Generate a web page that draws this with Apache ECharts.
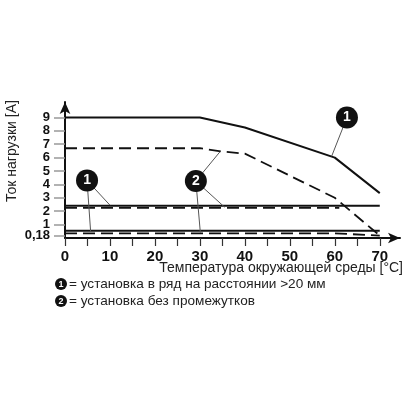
<!DOCTYPE html>
<html><head><meta charset="utf-8">
<script src="https://cdn.jsdelivr.net/npm/echarts@6/dist/echarts.min.js"></script>
<style>html,body{margin:0;padding:0;background:#fff}#c{width:408px;height:408px}</style>
</head><body><div id="c"></div>
<script>
// ---- data ----
const xLabelTicks = [0, 10, 20, 30, 40, 50, 60, 70];
const xMinorTicks = [0, 5, 10, 15, 20, 25, 30, 35, 40, 45, 50, 55, 60, 65, 70];
const yLabelTicks = [1, 2, 3, 4, 5, 6, 7, 8, 9];
const yBaseTick = [0.18];
const curveSpaced = [[0, 9], [30, 9], [40, 8.25], [60, 6.0], [70, 3.35]];
const curveNoGap = [[0, 6.7], [30, 6.7], [35, 6.45], [40, 6.3], [60, 3.0], [70, 0.18]];
const levelSpacedHigh = [[0, 2.4], [70, 2.4]];
const levelNoGapHigh = [[0, 2.25], [61, 2.25]];
const levelSpacedLow = [[0, 0.55], [70, 0.55]];
const levelNoGapLow = [[0, 0.35], [60, 0.35], [70, 0.18]];
const calloutLabels = ['1', '1', '2'];
const calloutPoints = [[62.7, 9.0], [4.9, 4.3], [29.1, 4.25]];
const leaderTargets = [[0, [59.3, 6.1]], [1, [10, 2.45]], [1, [5.7, 0.47]], [2, [34.5, 6.45]], [2, [35.5, 2.3]], [2, [30.1, 0.4]]];
const xAxisTitle = 'Температура окружающей среды [°C]';
const yAxisTitle = 'Ток нагрузки [A]';
const legendTexts = ['= установка в ряд на расстоянии >20 мм', '= установка без промежутков'];

const FONT = '"Liberation Sans", Arial, sans-serif';
const chart = echarts.init(document.getElementById('c'), null, {renderer: 'canvas'});

const solid = {color: '#111', width: 2, type: 'solid'};
const dashed = {color: '#111', width: 1.8, type: [12, 6]};
function lineSeries(data, style) {
  return {type: 'line', data: data, symbol: 'none', lineStyle: style, silent: true, z: 2, animation: false};
}
const yLabelStyle = {margin: 15, fontFamily: FONT, fontWeight: 'bold', fontSize: 13, color: '#111',
  formatter: v => String(v).replace('.', ',')};
const yTickStyle = {show: true, length: 11, lineStyle: {color: '#999', width: 1.5}};

chart.setOption({
  animation: false,
  grid: {left: 65, right: 8, top: 102, bottom: 170, containLabel: false},
  xAxis: {
    type: 'value', min: 0, max: 74.5,
    axisLine: {show: true, lineStyle: {color: '#111', width: 2}, symbol: ['none', 'arrow'], symbolSize: [8, 12]},
    axisTick: {show: true, customValues: xMinorTicks, length: 8, lineStyle: {color: '#333', width: 1.2}},
    axisLabel: {customValues: xLabelTicks, margin: 11, fontFamily: FONT, fontWeight: 'bold', fontSize: 15, color: '#111'},
    splitLine: {show: false}
  },
  yAxis: [{
    type: 'value', min: 0, max: 10.15, position: 'left',
    axisLine: {show: true, lineStyle: {color: '#111', width: 2}, symbol: ['none', 'arrow'], symbolSize: [8, 12]},
    axisTick: Object.assign({customValues: yLabelTicks}, yTickStyle),
    axisLabel: Object.assign({customValues: yLabelTicks}, yLabelStyle),
    splitLine: {show: false}
  }, {
    type: 'value', min: 0, max: 10.15, position: 'left', offset: 0,
    axisLine: {show: false},
    axisTick: Object.assign({customValues: yBaseTick}, yTickStyle),
    axisLabel: Object.assign({customValues: yBaseTick}, yLabelStyle),
    splitLine: {show: false}
  }],
  series: [
    lineSeries(curveSpaced, solid),
    lineSeries(curveNoGap, dashed),
    lineSeries(levelSpacedHigh, solid),
    lineSeries(levelNoGapHigh, dashed),
    lineSeries(levelSpacedLow, solid),
    lineSeries(levelNoGapLow, dashed),
    {
      type: 'lines', coordinateSystem: 'cartesian2d', silent: true, z: 3, animation: false,
      lineStyle: {color: '#555', width: 1, opacity: 1},
      data: leaderTargets.map(t => ({coords: [calloutPoints[t[0]], t[1]]}))
    },
    {
      type: 'scatter', silent: true, z: 5, animation: false,
      symbol: 'circle', symbolSize: 22,
      itemStyle: {color: '#111', opacity: 1},
      label: {show: true, position: 'inside', color: '#fff', fontFamily: FONT, fontWeight: 'bold', fontSize: 14,
        formatter: p => p.name},
      data: calloutPoints.map((p, i) => ({name: calloutLabels[i], value: p}))
    }
  ],
  graphic: [
    {type: 'text', x: 403, y: 268, style: {text: xAxisTitle, fontFamily: FONT, fontSize: 14, fill: '#222', align: 'right', verticalAlign: 'middle'}},
    {type: 'text', x: 12, y: 151, rotation: Math.PI / 2, style: {text: yAxisTitle, fontFamily: FONT, fontSize: 14, fill: '#222', align: 'center', verticalAlign: 'middle'}},
    {type: 'circle', shape: {cx: 61, cy: 284, r: 6}, style: {fill: '#111'}},
    {type: 'text', x: 61, y: 284.5, style: {text: '1', fontFamily: FONT, fontWeight: 'bold', fontSize: 9, fill: '#fff', align: 'center', verticalAlign: 'middle'}},
    {type: 'text', x: 69, y: 284, style: {text: legendTexts[0], fontFamily: FONT, fontSize: 13.6, fill: '#222', align: 'left', verticalAlign: 'middle'}},
    {type: 'circle', shape: {cx: 61, cy: 301, r: 6}, style: {fill: '#111'}},
    {type: 'text', x: 61, y: 301.5, style: {text: '2', fontFamily: FONT, fontWeight: 'bold', fontSize: 9, fill: '#fff', align: 'center', verticalAlign: 'middle'}},
    {type: 'text', x: 69, y: 301, style: {text: legendTexts[1], fontFamily: FONT, fontSize: 13.6, fill: '#222', align: 'left', verticalAlign: 'middle'}}
  ]
});
</script>
</body></html>
